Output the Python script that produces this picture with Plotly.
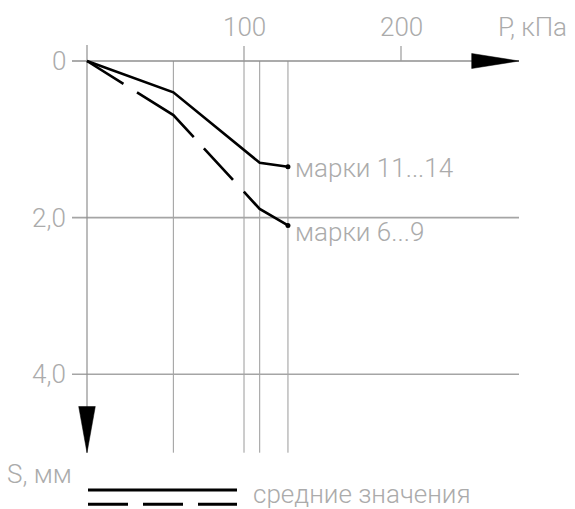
import plotly.graph_objects as go

# ---- data ----
P = [0, 55, 110, 128]                 # load, kPa
S_11_14 = [0, 0.40, 1.30, 1.35]       # settlement, mm (марки 11...14)
S_6_9 = [0, 0.69, 1.89, 2.10]         # settlement, mm (марки 6...9)
grid_P = [55, 100, 110, 128]          # vertical reference lines
x_ticks = [100, 200]
x_tick_text = ["100", "200"]
y_ticks = [0, 2, 4]
y_tick_text = ["0", "2,0", "4,0"]
series_labels = ["марки 11...14", "марки 6...9"]
legend_text = "средние значения"

# ---- geometry (px mapping of the drawing) ----
W, H = 575, 509
X0, KX = 87.0, 1.57     # px of P=0, px per kPa
Y0, KY = 61.0, 78.3     # px of S=0, px per mm
xr = [-X0 / KX, (W - X0) / KX]
yr = [(H - Y0) / KY, -Y0 / KY]

def px2P(px):
    return (px - X0) / KX

def px2S(py):
    return (py - Y0) / KY

GREY_TXT = "#ababab"
GRID = "#9a9a9a"
FONT = "Roboto, Liberation Sans, sans-serif"
FS = 26

fig = go.Figure()

Smax = px2S(452.7)
P_left = px2P(72)
P_right = px2P(519)

# vertical reference lines
for p in grid_P:
    fig.add_trace(go.Scatter(x=[p, p], y=[0, Smax], mode="lines",
                             line=dict(color=GRID, width=1), hoverinfo="skip"))
# horizontal grid lines
for s in y_ticks[1:]:
    fig.add_trace(go.Scatter(x=[P_left, P_right], y=[s, s], mode="lines",
                             line=dict(color="#a5a5a5", width=1.6), hoverinfo="skip"))
# x axis line
fig.add_trace(go.Scatter(x=[P_left, P_right], y=[0, 0], mode="lines",
                         line=dict(color="#8f8f8f", width=1.5), hoverinfo="skip"))
# y axis line
fig.add_trace(go.Scatter(x=[0, 0], y=[px2S(45), Smax], mode="lines",
                         line=dict(color="#8f8f8f", width=1.2), hoverinfo="skip"))
# x ticks
for t in x_ticks:
    fig.add_trace(go.Scatter(x=[t, t], y=[px2S(46), 0], mode="lines",
                             line=dict(color="#9a9a9a", width=1.2), hoverinfo="skip"))
# arrows
ah = 7.5 / KY
fig.add_trace(go.Scatter(x=[px2P(471.7), P_right, px2P(471.7), px2P(471.7)],
                         y=[-ah, 0, ah, -ah], mode="lines", fill="toself",
                         fillcolor="black", line=dict(color="black", width=0.5),
                         hoverinfo="skip"))
aw = 8.3 / KX
fig.add_trace(go.Scatter(x=[-aw, 0, aw, -aw],
                         y=[px2S(406.5), Smax, px2S(406.5), px2S(406.5)],
                         mode="lines", fill="toself", fillcolor="black",
                         line=dict(color="black", width=0.5), hoverinfo="skip"))

# data series
fig.add_trace(go.Scatter(x=P, y=S_11_14, mode="lines",
                         line=dict(color="black", width=2.6), hoverinfo="skip"))
fig.add_trace(go.Scatter(x=P, y=S_6_9, mode="lines",
                         line=dict(color="black", width=2.6, dash="43px,16px,73px,15px"),
                         hoverinfo="skip"))
fig.add_trace(go.Scatter(x=[P[-1], P[-1]], y=[S_11_14[-1], S_6_9[-1]], mode="markers",
                         marker=dict(color="black", size=5), hoverinfo="skip"))

ann = []
# y tick labels
for s, t in zip(y_ticks, y_tick_text):
    ann.append(dict(x=px2P(68), y=s, text=t, xanchor="right", yanchor="middle"))
# x tick labels
for p, t in zip(x_ticks, x_tick_text):
    ann.append(dict(x=p, y=px2S(27), text=t, xanchor="center", yanchor="middle"))
ann.append(dict(x=px2P(496), y=px2S(27), text="P, кПа", xanchor="left", yanchor="middle"))
ann.append(dict(x=px2P(74), y=px2S(474), text="S, мм", xanchor="right", yanchor="middle"))
ann.append(dict(x=px2P(293), y=px2S(168), text=series_labels[0], xanchor="left", yanchor="middle"))
ann.append(dict(x=px2P(293), y=px2S(232), text=series_labels[1], xanchor="left", yanchor="middle"))
ann.append(dict(x=px2P(251), y=px2S(494), text=legend_text, xanchor="left", yanchor="middle"))
for a in ann:
    a.update(showarrow=False, font=dict(family=FONT, size=FS, color=GREY_TXT, weight=300))

# legend symbol lines (paper coordinates)
fig.add_shape(type="line", xref="paper", yref="paper",
              x0=88 / W, x1=237 / W, y0=1 - 490 / H, y1=1 - 490 / H,
              line=dict(color="black", width=3))
fig.add_shape(type="line", xref="paper", yref="paper",
              x0=88 / W, x1=237 / W, y0=1 - 504.3 / H, y1=1 - 504.3 / H,
              line=dict(color="black", width=3, dash="40px,15px"))

fig.update_layout(
    width=W, height=H, margin=dict(l=0, r=0, t=0, b=0, pad=0),
    paper_bgcolor="white", plot_bgcolor="white", showlegend=False,
    xaxis=dict(range=xr, visible=False, fixedrange=True),
    yaxis=dict(range=yr, visible=False, fixedrange=True),
    annotations=ann,
)

fig.write_html("out.html", config={"displayModeBar": False},
               post_script="document.body.style.margin='0';document.body.style.overflow='hidden';")
